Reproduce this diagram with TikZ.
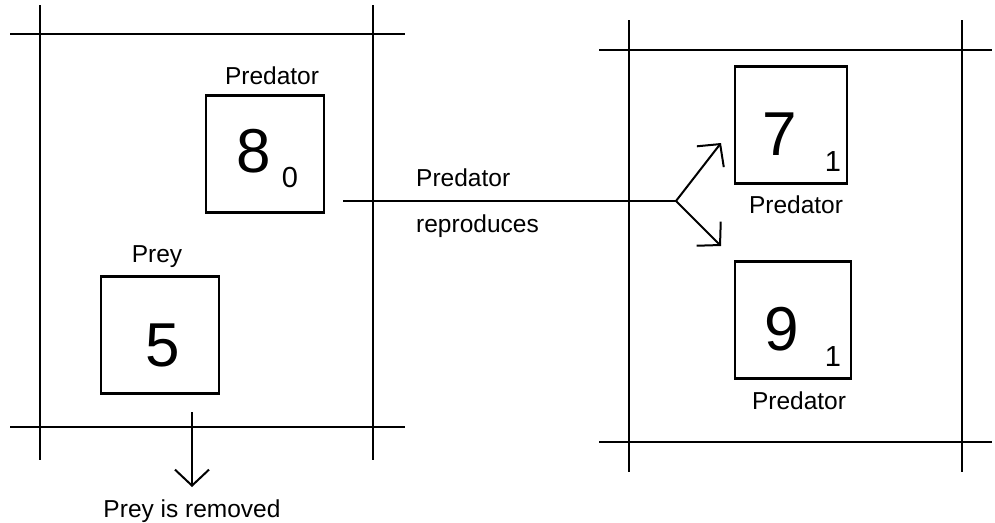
\documentclass[tikz,border=0pt]{standalone}
\usepackage{fontspec}
\setmainfont{Liberation Sans}
\usetikzlibrary{arrows.meta}

\begin{document}
\begin{tikzpicture}[
  x=1pt,
  y=-1pt, % <-- pixel-like coordinates, y grows downwards
  >={Straight Barb[length=16pt,width=34pt]},
  every node/.style={font=\fontsize{24.5}{29}\selectfont, inner sep=0pt},
  grid/.style={line width=2pt},
  cell/.style={draw, line width=2.2pt, minimum width=116pt, minimum height=117pt},
  big/.style={font=\fontsize{62}{72}\selectfont, anchor=base},
  sub/.style={font=\fontsize{29}{33}\selectfont, anchor=base},
  lbl/.style={anchor=base},
  move/.style={->, line width=2pt}
]

\useasboundingbox (0,0) rectangle (995,522);

% --- Left cell: grid lines ---
\draw[grid] (40,5) -- (40,460);
\draw[grid] (373,5) -- (373,460);
\draw[grid] (10,34) -- (405,34);
\draw[grid] (10,427) -- (405,427);

% --- Right cell: grid lines ---
\draw[grid] (629,20) -- (629,472);
\draw[grid] (962,20) -- (962,472);
\draw[grid] (599,50) -- (992,50);
\draw[grid] (599,442) -- (992,442);

% --- Left cell: predator and prey ---
\node[cell, minimum width=118pt] (pred) at (265,154) {};
\node[lbl] (predlbl) at (272,84) {Predator};
\node[big] (predage) at (254,172) {8};
\node[sub] (predsub) at (290,187) {0};

\node[cell, minimum width=118pt] (prey) at (160,335) {};
\node[lbl] (preylbl) at (157,262) {Prey};
\node[big] (preyval) at (163,366) {5};

% --- Right cell: two offspring ---
\node[cell, minimum width=112pt] (kidA) at (791,125) {};
\node[big] (kidAage) at (780,155) {7};
\node[sub] (kidAsub) at (833,171) {1};
\node[lbl] (kidAlbl) at (796,213) {Predator};

\node[cell] (kidB) at (793,320) {};
\node[big] (kidBage) at (782,350) {9};
\node[sub] (kidBsub) at (833,366) {1};
\node[lbl] (kidBlbl) at (799,409) {Predator};

% --- Reproduction arrow ---
\coordinate (start) at (343,201);
\coordinate (split) at (676,201);
\coordinate (tipA) at (721,143);
\coordinate (tipB) at (721,246);
\draw[line width=2pt] (start) -- (split);
\draw[move] (split) -- (tipA);
\draw[move] (split) -- (tipB);
\node[lbl, anchor=base west] (reprA) at (416,186) {Predator};
\node[lbl, anchor=base west] (reprB) at (416,232) {reproduces};

% --- Prey removal arrow ---
\coordinate (drop) at (192,412);
\coordinate (gone) at (192,487);
\draw[move] (drop) -- (gone);
\node[lbl] (gonelbl) at (192,517) {Prey is removed};

\end{tikzpicture}
\end{document}
